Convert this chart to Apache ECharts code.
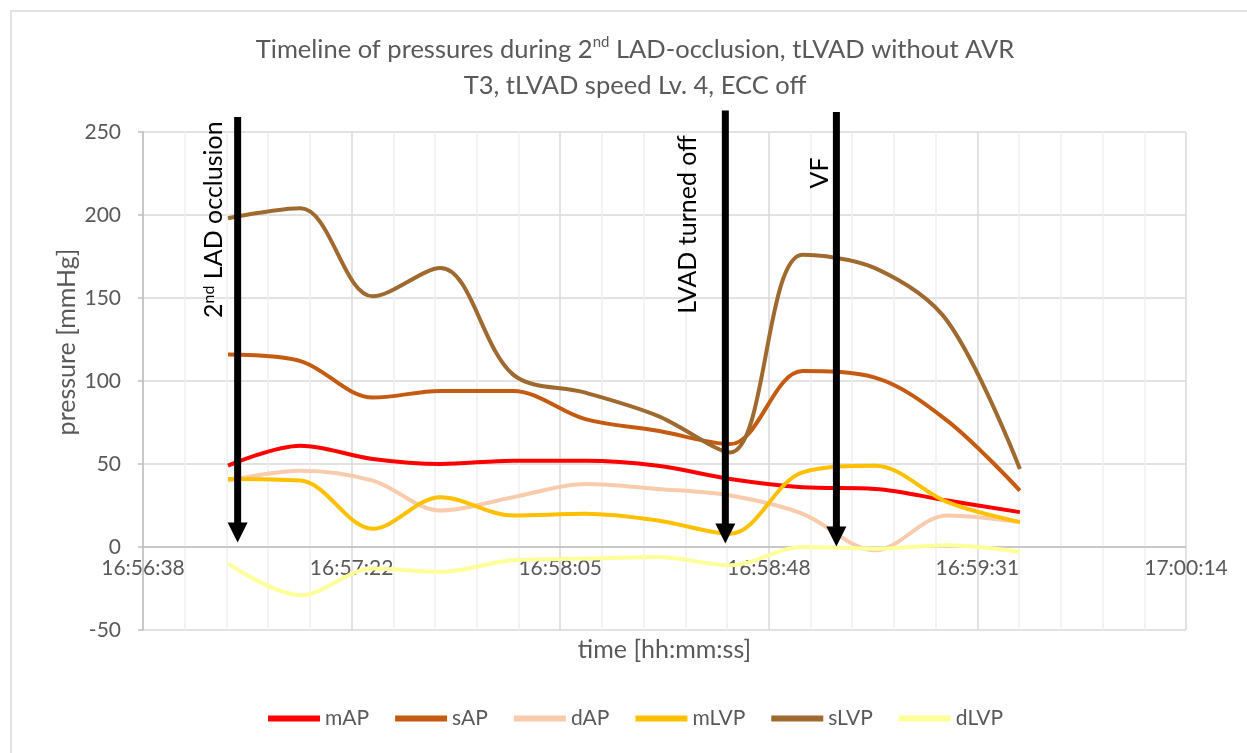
<!DOCTYPE html>
<html>
<head>
<meta charset="utf-8">
<title>Timeline of pressures</title>
<script src="https://cdn.jsdelivr.net/npm/echarts@6/dist/echarts.min.js"></script>
<style>
  html, body { margin: 0; padding: 0; background: #fff; }
  #chart { width: 1247px; height: 753px; }
</style>
</head>
<body>
<div id="chart"></div>
<script>
// sample times (hh:mm:ss)
const times = ['16:56:56', '16:57:11', '16:57:26', '16:57:40', '16:57:55', '16:58:10',
  '16:58:25', '16:58:40', '16:58:55', '16:59:10', '16:59:25', '16:59:40']

// pressures [mmHg]
const mAP  = [49, 61, 53, 50, 52, 52, 49, 41, 36, 35, 28, 21]
const sAP  = [116, 112, 90, 94, 94, 77, 70, 62, 106, 102, 76, 34]
const dAP  = [40, 46, 40, 22, 30, 38, 35, 31, 20, -2, 19, 15]
const mLVP = [41, 40, 11, 30, 19, 20, 16, 8, 45, 49, 27, 15]
const sLVP = [198, 204, 151, 168, 104, 93, 79, 57, 176, 168, 136, 47]
const dLVP = [-10, -29, -13, -15, -8, -7, -6, -11, 0, -1, 1, -3]

const seriesNames = ['mAP', 'sAP', 'dAP', 'mLVP', 'sLVP', 'dLVP']

// axis tick labels
const xTickLabels = ['16:56:38', '16:57:22', '16:58:05', '16:58:48', '16:59:31', '17:00:14']
const yTicks = [-50, 0, 50, 100, 150, 200, 250]

// events marked with arrows
const eventTimes = ['16:56:58', '16:58:39', '16:59:02']
const eventLabels = ['2{sup|nd} LAD occlusion', 'LVAD turned off', 'VF']

const toSec = (t) => {
  const [h, m, s] = t.split(':').map(Number)
  return h * 3600 + m * 60 + s
}

// excel axis starts a bit after the labelled second, major unit 0.0005 day
const AXIS_START = toSec(xTickLabels[0]) + 0.4
const MAJOR = 43.2
const toX = (t) => toSec(t) - AXIS_START

const colors = ['#FF0000', '#C55A11', '#F8CBAD', '#FFC000', '#9E6A2F', '#FFFF99']
const values = [mAP, sAP, dAP, mLVP, sLVP, dLVP]

const FONT = 'Lato, "Open Sans", sans-serif'
const GREY_TEXT = '#595959'

const chart = echarts.init(document.getElementById('chart'))

const option = {
  animation: false,
  backgroundColor: '#fff',
  title: [
    {
      text: 'Timeline of pressures during 2{sup|nd} LAD-occlusion, tLVAD without AVR\nT3, tLVAD speed Lv. 4, ECC off',
      left: 635,
      top: 32,
      textAlign: 'center',
      textVerticalAlign: 'top',
      padding: 0,
      textStyle: {
        fontFamily: FONT,
        fontSize: 25.5,
        fontWeight: 'normal',
        color: GREY_TEXT,
        lineHeight: 36,
        rich: {
          sup: { fontFamily: FONT, fontSize: 15, color: GREY_TEXT, lineHeight: 16, verticalAlign: 'top', padding: [3, 0, 0, 0] },
        },
      },
    },
    {
      text: 'time [hh:mm:ss]',
      left: 664.5,
      top: 637,
      textAlign: 'center',
      textVerticalAlign: 'top',
      padding: 0,
      textStyle: { fontFamily: FONT, fontSize: 25, fontWeight: 'normal', color: GREY_TEXT },
    },
  ],
  legend: {
    data: seriesNames,
    left: 268,
    top: 708,
    padding: 0,
    icon: 'rect',
    itemWidth: 52,
    itemHeight: 6,
    itemGap: 26,
    textStyle: { fontFamily: FONT, fontSize: 21, color: GREY_TEXT },
  },
  grid: {
    left: 143,
    top: 132,
    width: 1043,
    height: 498,
    outerBoundsMode: 'none',
  },
  xAxis: {
    type: 'value',
    min: 0,
    max: MAJOR * 5,
    interval: MAJOR,
    // excel puts the time labels right under the 0 line
    axisLine: { show: false, onZero: false },
    axisTick: { show: false },
    axisLabel: {
      margin: -72,
      fontFamily: FONT,
      fontSize: 21,
      color: GREY_TEXT,
      formatter: (v) => xTickLabels[Math.round(v / MAJOR)] || '',
    },
    splitLine: { show: true, lineStyle: { color: '#d9d9d9', width: 1.5 } },
    minorTick: { show: false, splitNumber: 5 },
    minorSplitLine: { show: true, lineStyle: { color: '#f0f0f0', width: 1.5 } },
  },
  yAxis: {
    type: 'value',
    min: yTicks[0],
    max: yTicks[yTicks.length - 1],
    interval: 50,
    axisLine: { show: true, onZero: false, lineStyle: { color: '#bfbfbf', width: 1.5 } },
    axisTick: { show: true, length: 5, lineStyle: { color: '#bfbfbf', width: 1.5 } },
    axisLabel: { margin: 22, fontFamily: FONT, fontSize: 21, color: GREY_TEXT },
    splitLine: { lineStyle: { color: '#d9d9d9', width: 1.5 } },
  },
  series: seriesNames.map((name, i) => ({
    name,
    type: 'line',
    data: times.map((t, j) => [toX(t), values[i][j]]),
    smooth: 0.34,
    symbol: 'none',
    color: colors[i],
    lineStyle: { color: colors[i], width: 4 },
    emphasis: { disabled: true },
    z: 2 + i,
    // horizontal axis line at 0
    markLine: i === 0 ? {
      silent: true,
      symbol: 'none',
      label: { show: false },
      lineStyle: { color: '#bfbfbf', width: 1.5, type: 'solid' },
      data: [{ yAxis: 0 }],
    } : undefined,
  })),
}

chart.setOption(option)

// arrows + rotated labels, placed in data coordinates
// top / tip: y values of arrow ends, labelAt: y value where label text starts, labelDx: px left of arrow
const arrowLayout = [
  { top: 259, tip: 2.7, labelAt: 138, labelDx: -9 },
  { top: 263, tip: 2.1, labelAt: 140.5, labelDx: -22 },
  { top: 262, tip: 0.3, labelAt: 216, labelDx: -1 },
]

const graphics = [
  // outer chart border (excel chart area)
  { type: 'rect', shape: { x: 11, y: 11, width: 1260, height: 800 }, style: { fill: null, stroke: '#d9d9d9', lineWidth: 1.5 }, z: 0, silent: true },
  // y axis title, centred like excel does it
  {
    type: 'text',
    x: 79,
    y: 342,
    rotation: Math.PI / 2,
    style: { text: 'pressure [mmHg]', fontFamily: FONT, fontSize: 25, fill: GREY_TEXT, align: 'center', verticalAlign: 'bottom' },
  },
]

eventTimes.forEach((t, i) => {
  const l = arrowLayout[i]
  const [x, yTop] = chart.convertToPixel({ gridIndex: 0 }, [toX(t), l.top])
  const [, yTip] = chart.convertToPixel({ gridIndex: 0 }, [toX(t), l.tip])
  const [, yLabel] = chart.convertToPixel({ gridIndex: 0 }, [toX(t), l.labelAt])
  const headH = 20
  const headW = 20
  graphics.push({
    type: 'line',
    shape: { x1: x, y1: yTop, x2: x, y2: yTip - headH + 1 },
    style: { stroke: '#000', lineWidth: 7 },
    z: 100,
  })
  graphics.push({
    type: 'polygon',
    shape: { points: [[x - headW / 2, yTip - headH], [x + headW / 2, yTip - headH], [x, yTip]] },
    style: { fill: '#000' },
    z: 100,
  })
  graphics.push({
    type: 'text',
    x: x + l.labelDx,
    y: yLabel,
    rotation: Math.PI / 2,
    style: {
      text: eventLabels[i],
      fontFamily: FONT,
      fontSize: 25,
      fill: '#000',
      align: 'left',
      verticalAlign: 'bottom',
      lineHeight: 30,
      rich: {
        sup: { fontFamily: FONT, fontSize: 16, fill: '#000', lineHeight: 16, verticalAlign: 'top', padding: [2, 0, 0, 0] },
      },
    },
    z: 99,
  })
})

chart.setOption({ graphic: graphics })
</script>
</body>
</html>
